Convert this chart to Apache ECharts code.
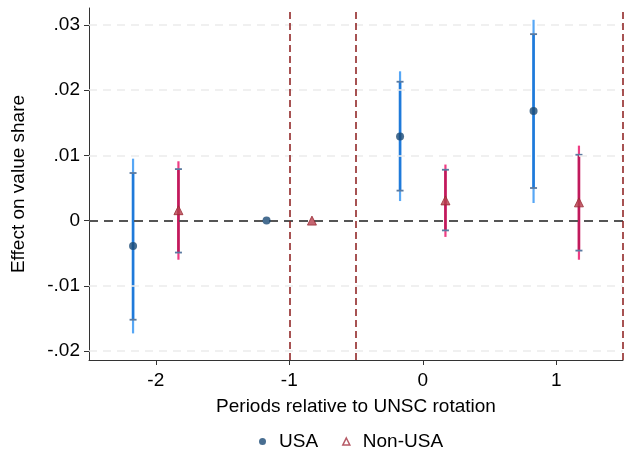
<!DOCTYPE html>
<html>
<head>
<meta charset="utf-8">
<script src="https://cdn.jsdelivr.net/npm/echarts@6/dist/echarts.min.js"></script>
<style>html,body{margin:0;padding:0;background:#fff}#c{width:624px;height:452px}</style>
</head>
<body>
<div id="c"></div>
<script>
// ---- data ----
const periods = [-2, -1, 0, 1];
const periodTicks = [-2, -1, 0, 1];
const yTicks = [-0.02, -0.01, 0, 0.01, 0.02, 0.03];
const usaCoef = [-0.0039, 0, 0.0129, 0.0168];
const usaLo95 = [-0.0173, null, 0.0030, 0.0027];
const usaHi95 = [0.0095, null, 0.0229, 0.0308];
const usaLo90 = [-0.0152, null, 0.0046, 0.0050];
const usaHi90 = [0.0073, null, 0.0213, 0.0286];
const nonCoef = [0.0016, 0, 0.0031, 0.0028];
const nonLo95 = [-0.0060, null, -0.0025, -0.0060];
const nonHi95 = [0.0091, null, 0.0086, 0.0115];
const nonLo90 = [-0.0049, null, -0.0015, -0.0046];
const nonHi90 = [0.0079, null, 0.0078, 0.0101];
const refLinesX = [-1, -0.5, 1.5];
const seriesNames = ['USA', 'Non-USA'];
const xTitle = 'Periods relative to UNSC rotation';
const yTitle = 'Effect on value share';

// ---- build ----
const OFF = 0.17;
function ciData(lo95, hi95, lo90, hi90, shift) {
  const out = [];
  periods.forEach((p, i) => {
    if (lo95[i] !== null) out.push([p + shift, lo95[i], hi95[i], lo90[i], hi90[i]]);
  });
  return out;
}
function ptData(coef, shift) { return periods.map((p, i) => [p + shift, coef[i]]); }

function makeCI(outerColor, innerColor, capColor) {
  return function (params, api) {
    const x = api.value(0);
    const a = api.coord([x, api.value(1)]);
    const b = api.coord([x, api.value(2)]);
    const c = api.coord([x, api.value(3)]);
    const d = api.coord([x, api.value(4)]);
    const cw = 3.5;
    return {
      type: 'group',
      children: [
        {type: 'line', shape: {x1: a[0], y1: a[1], x2: b[0], y2: b[1]}, style: {stroke: outerColor, lineWidth: 2.2}},
        {type: 'line', shape: {x1: c[0], y1: c[1], x2: d[0], y2: d[1]}, style: {stroke: innerColor, lineWidth: 2.6}},
        {type: 'line', shape: {x1: c[0] - cw, y1: c[1], x2: c[0] + cw, y2: c[1]}, style: {stroke: capColor, lineWidth: 1.8}},
        {type: 'line', shape: {x1: d[0] - cw, y1: d[1], x2: d[0] + cw, y2: d[1]}, style: {stroke: capColor, lineWidth: 1.8}}
      ]
    };
  };
}

const gridLines = yTicks.filter(v => v !== 0).map(v => ({yAxis: v}));
const font = 'Liberation Sans, Arial, sans-serif';
const FS = 19;

const option = {
  animation: false,
  backgroundColor: '#fff',
  grid: {left: 89, right: 1, top: 8, bottom: 92},
  legend: {
    bottom: 0,
    left: 254,
    padding: [0, 5, 1, 5],
    itemWidth: 7,
    itemHeight: 7,
    itemGap: 24,
    textStyle: {fontFamily: font, fontSize: FS, color: '#000', padding: [0, 0, 0, 8]},
    data: [
      {name: seriesNames[0], icon: 'circle', itemStyle: {color: '#1a4a75'}},
      {name: seriesNames[1], icon: 'triangle', itemStyle: {color: '#fff', borderColor: '#a3303e', borderWidth: 1.5}}
    ]
  },
  xAxis: {
    type: 'value', min: -2.5, max: 1.5,
    name: xTitle, nameLocation: 'middle', nameGap: 37,
    nameTextStyle: {fontFamily: font, fontSize: FS, color: '#000'},
    axisLine: {show: true, onZero: false, lineStyle: {color: '#333', width: 1}},
    axisTick: {show: true, length: 5, customValues: periodTicks, lineStyle: {color: '#333'}},
    axisLabel: {customValues: periodTicks, fontFamily: font, fontSize: FS, color: '#000', margin: 11},
    splitLine: {show: false}
  },
  yAxis: {
    type: 'value', min: -0.02138, max: 0.03261,
    name: yTitle, nameLocation: 'middle', nameGap: 61,
    nameTextStyle: {fontFamily: font, fontSize: FS, color: '#000'},
    axisLine: {show: true, onZero: false, lineStyle: {color: '#333', width: 1}},
    axisTick: {show: true, length: 5, customValues: yTicks, lineStyle: {color: '#333'}},
    axisLabel: {
      customValues: yTicks, fontFamily: font, fontSize: FS, color: '#000', margin: 9,
      formatter: v => {
        if (Math.abs(v) < 1e-9) return '0';
        const s = (Math.round(v * 100) / 100).toFixed(2);
        return s.replace(/^(-?)0\./, '$1.');
      }
    },
    splitLine: {show: false}
  },
  series: [
    {
      type: 'line', data: [], silent: true,
      markLine: {
        silent: true, symbol: 'none', label: {show: false},
        lineStyle: {color: '#ececec', type: [8, 6], width: 1.5},
        data: gridLines
      }
    },
    {
      type: 'line', data: [], silent: true,
      markLine: {
        silent: true, symbol: 'none', label: {show: false},
        lineStyle: {color: '#555', type: [9, 6], width: 2},
        data: [{yAxis: 0}]
      }
    },
    {
      type: 'line', data: [], silent: true,
      markLine: {
        silent: true, symbol: 'none', label: {show: false},
        lineStyle: {color: '#8b1a1a', type: [7, 4], width: 1.5},
        data: refLinesX.map(v => ({xAxis: v}))
      }
    },
    {type: 'custom', renderItem: makeCI('#57a7f5', '#1f7ada', '#5a7aa0'), data: ciData(usaLo95, usaHi95, usaLo90, usaHi90, -OFF), z: 3},
    {type: 'custom', renderItem: makeCI('#ef3d84', '#c01a5c', '#5a7aa0'), data: ciData(nonLo95, nonHi95, nonLo90, nonHi90, OFF), z: 3},
    {name: seriesNames[0], type: 'scatter', symbol: 'circle', symbolSize: 8, itemStyle: {color: '#1a4a75'}, data: ptData(usaCoef, -OFF), z: 5},
    {name: seriesNames[1], type: 'scatter', symbol: 'triangle', symbolSize: 9, itemStyle: {color: '#b5404e', borderColor: '#9a2a35', borderWidth: 1}, data: ptData(nonCoef, OFF), z: 5}
  ]
};
echarts.init(document.getElementById('c')).setOption(option);
</script>
</body>
</html>
